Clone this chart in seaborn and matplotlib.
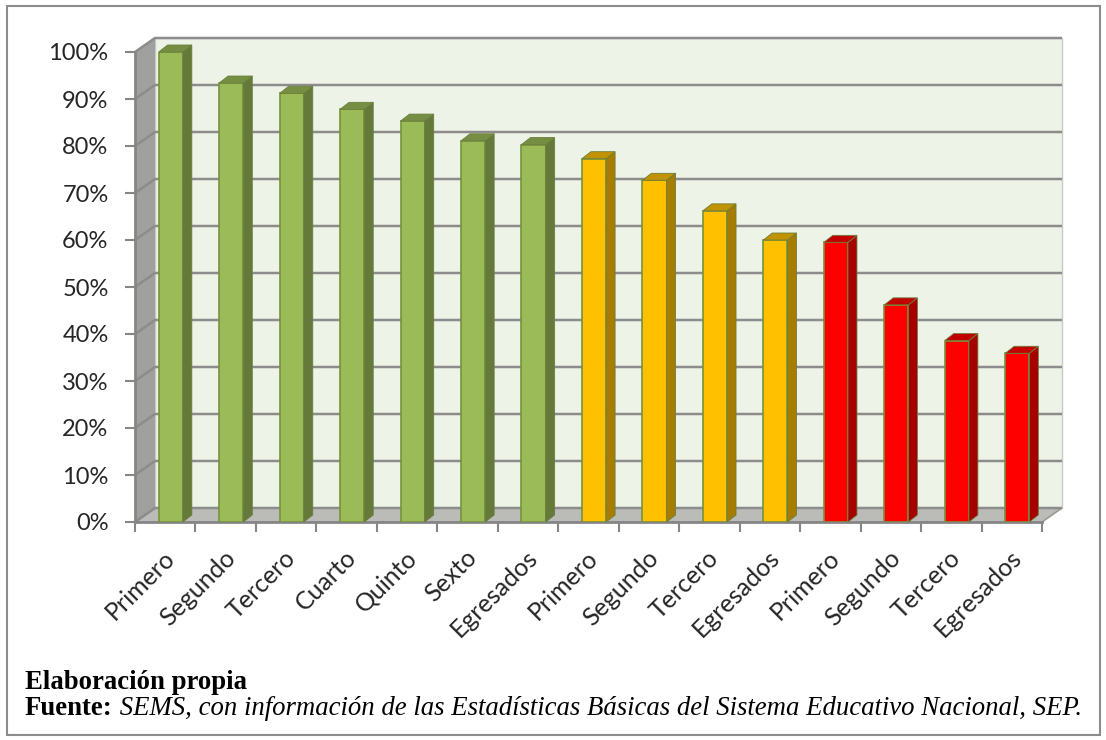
import numpy as np
import pandas as pd
import matplotlib
matplotlib.use("Agg")
import matplotlib.pyplot as plt
import seaborn as sns
from matplotlib.patches import Polygon, Rectangle
from matplotlib.transforms import ScaledTranslation

# ---------------- data ----------------
grados = ["Primero", "Segundo", "Tercero", "Cuarto", "Quinto", "Sexto", "Egresados",
          "Primero", "Segundo", "Tercero", "Egresados",
          "Primero", "Segundo", "Tercero", "Egresados"]
niveles = ["Primaria"] * 7 + ["Secundaria"] * 4 + ["Media superior"] * 4
valores = [100, 93.4, 91.2, 87.8, 85.3, 81.1, 80.3,
           77.3, 72.7, 66.2, 60.0,
           59.5, 46.2, 38.6, 35.9]
colores_nivel = {"Primaria": "#9BBB59", "Secundaria": "#FFC000", "Media superior": "#FF0000"}
yticks = list(range(0, 101, 10))
ytick_labels = [f"{v}%" for v in yticks]
nota1 = "Elaboración propia"
nota2_bold = "Fuente:"
nota2_it = " SEMS, con información de las Estadísticas Básicas del Sistema Educativo Nacional, SEP."

df = pd.DataFrame({"clave": [f"{n} - {g}" for n, g in zip(niveles, grados)],
                   "nivel": niveles, "valor": valores})

# ---------------- figure ----------------
sns.set_theme(style="white")
plt.rcParams["font.family"] = ["Lato", "DejaVu Sans"]

W, H = 1106, 740
fig = plt.figure(figsize=(W / 100, H / 100), dpi=100)
fig.patch.set_facecolor("white")

L, R, B, T = 135, 1042, 522, 52
ax = fig.add_axes([L / W, (H - B) / H, (R - L) / W, (B - T) / H])
ax.set_facecolor("none")

sns.barplot(data=df, x="clave", y="valor", hue="nivel", palette=colores_nivel,
            saturation=1, dodge=False, width=0.4, edgecolor="#77933C", linewidth=1.2,
            legend=False, ax=ax, zorder=3)
bars = list(ax.patches)

n = len(grados)
ux = n / (R - L)
uy = 100 / (B - T)
shift = 5.5 * ux            # bars sit slightly right of category centre (depth)
x_lo, x_hi = -0.5 - shift, n - 0.5 - shift
ax.set_xlim(x_lo, x_hi)
ax.set_ylim(0, 100)

wx, wy = 20 * ux, 14 * uy   # wall depth
bx, by = 9 * ux, 7 * uy     # bar depth

# walls
back = Rectangle((x_lo + wx, wy), n, 100, facecolor="#EEF3E8", edgecolor="#C8C8C8",
                 lw=1, zorder=0.5, clip_on=False)
ax.add_patch(back)
left_wall = Polygon([(x_lo, 0), (x_lo, 100), (x_lo + wx, 100 + wy), (x_lo + wx, wy)],
                    closed=True, facecolor="#A0A09E", edgecolor="none", zorder=0.6, clip_on=False)
ax.add_patch(left_wall)
floor = Polygon([(x_lo, 0), (x_hi, 0), (x_hi + wx, wy), (x_lo + wx, wy)],
                closed=True, facecolor="#BBBBB7", edgecolor="#9A9A9A", lw=1.2, zorder=0.7, clip_on=False)
ax.add_patch(floor)

for v in yticks:
    ax.plot([x_lo, x_lo + wx, x_hi + wx], [v, v + wy, v + wy], color="#8C8C8C",
            lw=1.8, zorder=1.5, clip_on=False, solid_capstyle="butt")

# 3D faces of bars
for p in bars:
    x0, w, h = p.get_x(), p.get_width(), p.get_height()
    fc = np.array(p.get_facecolor()[:3])
    side = Polygon([(x0 + w, 0), (x0 + w, h), (x0 + w + bx, h + by), (x0 + w + bx, by)],
                   closed=True, facecolor=fc * 0.65, edgecolor="#6B7F3A", lw=0.6,
                   zorder=3, clip_on=False)
    top = Polygon([(x0, h), (x0 + w, h), (x0 + w + bx, h + by), (x0 + bx, h + by)],
                  closed=True, facecolor=fc * 0.76, edgecolor="#6B7F3A", lw=0.6,
                  zorder=3, clip_on=False)
    ax.add_patch(side)
    ax.add_patch(top)

# axes
for s in ["top", "right"]:
    ax.spines[s].set_visible(False)
for s in ["left", "bottom"]:
    ax.spines[s].set_color("#868686")
    ax.spines[s].set_linewidth(2)
    ax.spines[s].set_zorder(2)

ax.set_yticks(yticks)
ax.set_yticklabels(ytick_labels)
ax.tick_params(axis="y", left=True, length=7, width=1.5, color="#868686",
               direction="out", pad=12, labelsize=17, labelcolor="#262626")
ax.set_xticks(range(n))
ax.set_xticklabels(grados, rotation=45, ha="right", rotation_mode="anchor")
ax.set_xticks(np.arange(n + 1) + x_lo, minor=True)
ax.tick_params(axis="x", which="major", bottom=False, length=0, pad=10,
               labelsize=18, labelcolor="#262626")
ax.tick_params(axis="x", which="minor", bottom=True, length=7, width=1.5,
               color="#868686", direction="out")
off = ScaledTranslation(-8 / 100, -10 / 100, fig.dpi_scale_trans)
for lbl in ax.get_xticklabels():
    lbl.set_transform(lbl.get_transform() + off)
ax.set_xlabel("")
ax.set_ylabel("")
ax.grid(False)

# footnotes
serif = ["Liberation Serif", "DejaVu Serif"]
fs = 19.3
fig.text(25 / W, (H - 689) / H, nota1, fontsize=fs, fontweight="bold", family=serif,
         color="black", ha="left", va="baseline")
t_b = fig.text(25 / W, (H - 715) / H, nota2_bold, fontsize=fs, fontweight="bold",
               family=serif, color="black", ha="left", va="baseline")
renderer = fig.canvas.get_renderer()
bb = t_b.get_window_extent(renderer)
fig.text(bb.x1 / W, (H - 715) / H, nota2_it, fontsize=fs, style="italic",
         family=serif, color="black", ha="left", va="baseline")

# outer border
fig.add_artist(Rectangle((7 / W, 5 / H), 1093 / W, 729 / H, transform=fig.transFigure,
                         fill=False, edgecolor="#8C8C8C", lw=1.5))

fig.savefig("out.png", dpi=100, facecolor="white")
